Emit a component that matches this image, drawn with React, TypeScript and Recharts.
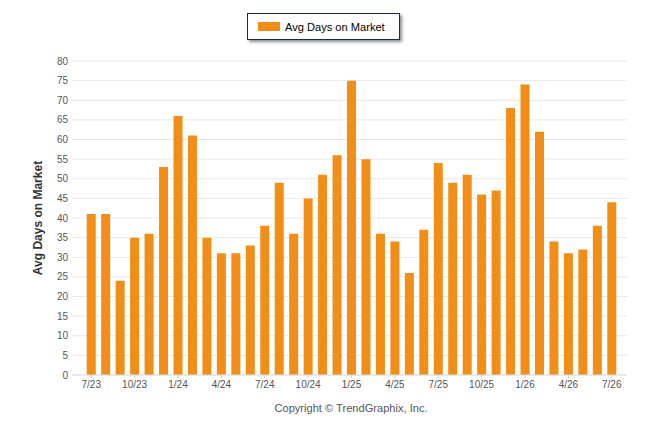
import React from 'react';
import { BarChart, Bar, XAxis, YAxis, CartesianGrid } from 'recharts';

const months = [
  '7/23', '8/23', '9/23', '10/23', '11/23', '12/23',
  '1/24', '2/24', '3/24', '4/24', '5/24', '6/24', '7/24', '8/24', '9/24', '10/24', '11/24', '12/24',
  '1/25', '2/25', '3/25', '4/25', '5/25', '6/25', '7/25', '8/25', '9/25', '10/25', '11/25', '12/25',
  '1/26', '2/26', '3/26', '4/26', '5/26', '6/26', '7/26',
];

const avgDays = [
  41, 41, 24, 35, 36, 53,
  66, 61, 35, 31, 31, 33, 38, 49, 36, 45, 51, 56,
  75, 55, 36, 34, 26, 37, 54, 49, 51, 46, 47, 68,
  74, 62, 34, 31, 32, 38, 44,
];

const yTicks = [0, 5, 10, 15, 20, 25, 30, 35, 40, 45, 50, 55, 60, 65, 70, 75, 80];

const seriesName = 'Avg Days on Market';
const copyright = 'Copyright \u00A9 TrendGraphix, Inc.';

const data = months.map((m, i) => ({ month: m, value: avgDays[i] }));

const FONT = '"Liberation Sans", Arial, sans-serif';
const ORANGE = '#F08E17';

export default function App() {
  return (
    <div style={{ position: 'absolute', left: 0, top: 0, width: 646, height: 434, background: '#fff' }}>
      <BarChart
        width={646}
        height={434}
        data={data}
        margin={{ top: 61, right: 19, left: 0, bottom: 39 }}
        barCategoryGap="19%"
      >
        <CartesianGrid vertical={false} stroke="#e8e8e8" />
        <XAxis
          dataKey="month"
          interval={2}
          height={20}
          padding={{ left: 12, right: 8 }}
          axisLine={{ stroke: '#e0e0e0' }}
          tickLine={{ stroke: '#cfcfcf' }}
          tickSize={3}
          tickMargin={3}
          tick={{ fontSize: 10, fill: '#555', fontFamily: FONT }}
        />
        <YAxis
          width={72}
          domain={[0, 80]}
          ticks={yTicks}
          interval={0}
          axisLine={false}
          tickLine={false}
          tickSize={0}
          tickMargin={4}
          tick={{ fontSize: 10, fill: '#555', fontFamily: FONT }}
          label={{
            value: seriesName,
            angle: -90,
            position: 'insideLeft',
            offset: 38,
            style: { textAnchor: 'middle', fontSize: 12, fontWeight: 'bold', fill: '#333', fontFamily: FONT },
          }}
        />
        <Bar dataKey="value" name={seriesName} fill={ORANGE} isAnimationActive={false} />
      </BarChart>
      <div
        style={{
          position: 'absolute',
          left: 247,
          top: 13,
          boxSizing: 'border-box',
          width: 153,
          height: 27,
          border: '1px solid #1f2a44',
          boxShadow: '2px 2px 3px rgba(0,0,0,0.45)',
          background: '#fff',
          display: 'flex',
          alignItems: 'center',
          paddingLeft: 10,
          fontFamily: FONT,
          fontSize: 11.1,
          color: '#000',
        }}
      >
        <span style={{ display: 'inline-block', width: 22, height: 9, background: ORANGE, marginRight: 5 }} />
        <span>{seriesName}</span>
      </div>
      <div
        style={{
          position: 'absolute',
          left: 0,
          top: 402,
          width: 702,
          textAlign: 'center',
          fontFamily: FONT,
          fontSize: 11.1,
          color: '#555',
        }}
      >
        {copyright}
      </div>
    </div>
  );
}
